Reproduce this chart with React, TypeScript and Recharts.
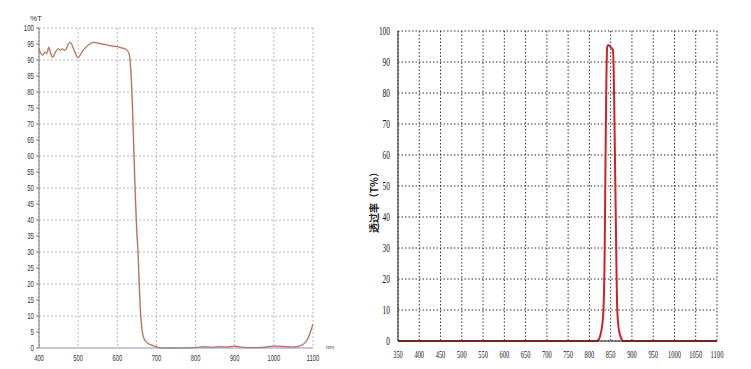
import React from 'react';
import { LineChart, Line, XAxis, YAxis, CartesianGrid } from 'recharts';

// left plot: longpass filter scan (%T vs nm)
const leftWave = [400, 405, 410, 415, 420, 425, 430, 435, 440, 445, 450, 455, 460, 465, 470, 475, 480, 485, 490, 495, 500, 505, 510, 520, 530, 540, 550, 560, 570, 580, 590, 600, 610, 620, 625, 630, 634, 638, 642, 646, 650, 653, 656, 659, 663, 668, 675, 690, 705, 720, 760, 800, 820, 840, 860, 880, 900, 920, 950, 980, 1000, 1020, 1050, 1065, 1075, 1085, 1092, 1100];
const leftT = [93.5, 92, 91.5, 92.5, 92, 94, 92, 90.8, 92, 93, 93.5, 93, 93.5, 93, 93.5, 95, 95.5, 94.5, 93, 91.5, 90.7, 91.5, 92.5, 94, 95, 95.5, 95.3, 95, 94.8, 94.5, 94.3, 94.2, 93.8, 93.5, 93, 92, 88, 78, 63, 48, 36, 30, 20, 12, 6, 3, 1.8, 0.8, 0.2, 0, 0, 0.1, 0.4, 0.2, 0.4, 0.3, 0.6, 0.2, 0.1, 0.3, 0.6, 0.5, 0.3, 0.6, 1.2, 2.5, 4.5, 7.5];

const leftTicksX = [400, 500, 600, 700, 800, 900, 1000, 1100];
const leftTicksY = [0, 5, 10, 15, 20, 25, 30, 35, 40, 45, 50, 55, 60, 65, 70, 75, 80, 85, 90, 95, 100];
const leftGridY = [10, 20, 30, 40, 50, 60, 70, 80, 90, 100];

// right plot: 850nm bandpass
const rightWave = [350, 400, 500, 600, 700, 800, 815, 822, 826, 830, 833, 836, 838, 840, 842, 845, 850, 855, 857, 859, 861, 863, 865, 868, 872, 876, 880, 900, 1000, 1100];
const rightT = [0, 0, 0, 0, 0, 0, 0, 0.5, 2, 5, 10, 30, 60, 85, 95, 95.5, 94.8, 94, 88, 70, 50, 30, 12, 5, 2, 0.5, 0, 0, 0, 0];

const rightTicksX = [350, 400, 450, 500, 550, 600, 650, 700, 750, 800, 850, 900, 950, 1000, 1050, 1100];
const rightTicksY = [0, 10, 20, 30, 40, 50, 60, 70, 80, 90, 100];

const leftData = leftWave.map((w, i) => ({ w, t: leftT[i] }));
const rightData = rightWave.map((w, i) => ({ w, t: rightT[i] }));

const NarrowTick = (props: any) => {
  const { x, y, payload, textAnchor, fs, cw, dy, fill, family } = props;
  const s = String(payload.value);
  return (
    <text x={x} y={y} dy={dy} textAnchor={textAnchor} fontSize={fs} fontFamily={family} fill={fill}
      textLength={s.length * cw} lengthAdjust="spacingAndGlyphs">
      {s}
    </text>
  );
};

export default function App() {
  const narrow = '"Liberation Sans Narrow", "Liberation Sans", Arial, sans-serif';
  const serif = '"Liberation Serif", "DejaVu Serif", serif';
  return (
    <div style={{ position: 'absolute', left: 0, top: 0, width: 751, height: 369, background: '#fff', overflow: 'hidden' }}>
      <div style={{ position: 'absolute', left: 0, top: 0 }}>
        <LineChart width={330} height={369} data={leftData} margin={{ top: 28, left: 9, right: 17, bottom: 1 }}>
          <CartesianGrid stroke="#b8b8b8" strokeDasharray="2 2" horizontalValues={leftGridY} verticalValues={leftTicksX} />
          <XAxis dataKey="w" type="number" domain={[400, 1100]} ticks={leftTicksX} height={20}
            stroke="#8a93a6" tickSize={0} tickMargin={7}
            tick={(p: any) => <NarrowTick {...p} fs={9} cw={3.2} dy="0.71em" fill="#333" family={narrow} />} />
          <YAxis type="number" domain={[0, 100]} ticks={leftTicksY} width={30} interval={0}
            stroke="#777" tickSize={3} tickMargin={2}
            tick={(p: any) => <NarrowTick {...p} fs={9} cw={3.4} dy="0.35em" fill="#333" family={narrow} />} />
          <Line dataKey="t" type="monotone" stroke="#dccdb4" strokeWidth={1.8} dot={false} isAnimationActive={false} />
          <Line dataKey="t" type="monotone" stroke="#a34a46" strokeWidth={0.8} dot={false} isAnimationActive={false} />
        </LineChart>
        <div style={{ position: 'absolute', left: 30, top: 14, fontFamily: narrow, fontSize: 8, color: '#333' }}>%T</div>
        <div style={{ position: 'absolute', left: 326, top: 344, fontFamily: narrow, fontSize: 6, color: '#444' }}>nm</div>
      </div>
      <div style={{ position: 'absolute', left: 360, top: 0 }}>
        <LineChart width={391} height={369} data={rightData} margin={{ top: 31, left: 10, right: 34, bottom: 8 }}>
          <CartesianGrid stroke="#333" strokeDasharray="1.5 2" horizontalValues={rightTicksY} verticalValues={rightTicksX} />
          <XAxis dataKey="w" type="number" domain={[350, 1100]} ticks={rightTicksX} height={20} interval={0}
            stroke="#222" tickSize={0} tickMargin={9}
            tick={(p: any) => <NarrowTick {...p} fs={11} cw={3.2} dy="0.71em" fill="#111" family={serif} />} />
          <YAxis type="number" domain={[0, 100]} ticks={rightTicksY} width={28} interval={0}
            stroke="#222" tickSize={0} tickMargin={8}
            tick={(p: any) => <NarrowTick {...p} fs={12} cw={3.7} dy="0.35em" fill="#111" family={serif} />} />
          <Line dataKey="t" type="monotone" stroke="#cc2229" strokeWidth={2} dot={false} isAnimationActive={false} />
        </LineChart>
        <div style={{ position: 'absolute', left: 13, top: 200, transform: 'translate(-50%, -50%) rotate(-90deg)', whiteSpace: 'nowrap', fontFamily: '"Noto Sans CJK SC", sans-serif', fontSize: 10, fontWeight: 700, color: '#222' }}>
          透过率（T%）
        </div>
      </div>
    </div>
  );
}
